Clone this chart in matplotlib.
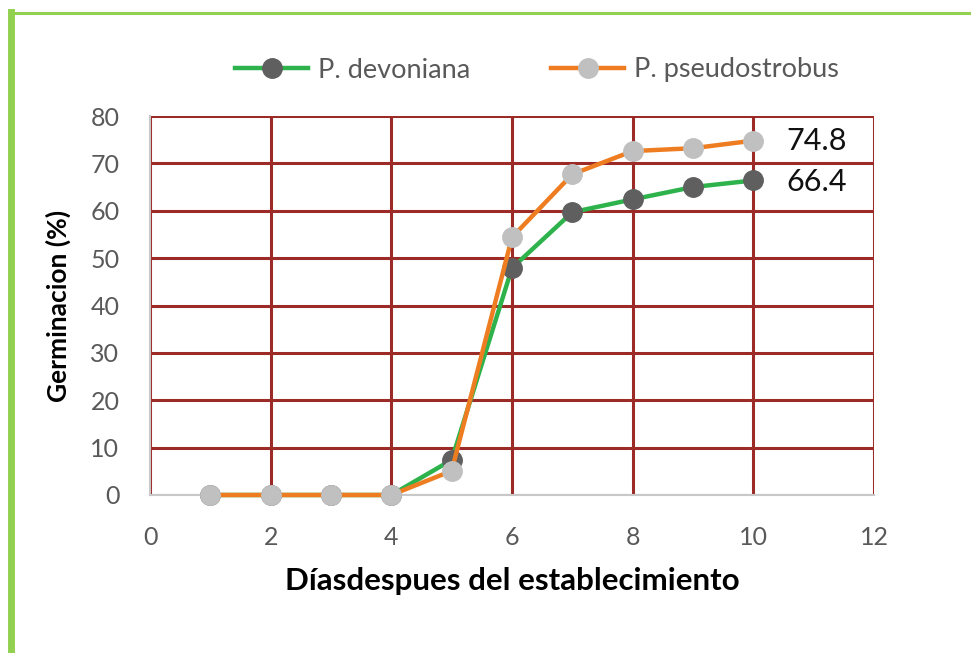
import matplotlib
matplotlib.use("Agg")
import matplotlib.pyplot as plt
from matplotlib.lines import Line2D

plt.rcParams['font.family'] = ['Lato', 'DejaVu Sans']

dias = [1, 2, 3, 4, 5, 6, 7, 8, 9, 10]
devoniana = [0, 0, 0, 0, 7.4, 47.9, 59.7, 62.4, 65.0, 66.4]
pseudostrobus = [0, 0, 0, 0, 5.1, 54.4, 67.7, 72.6, 73.2, 74.8]
xticks = [0, 2, 4, 6, 8, 10, 12]
yticks = [0, 10, 20, 30, 40, 50, 60, 70, 80]

W, H = 971, 653
fig = plt.figure(figsize=(W / 100, H / 100), dpi=100, facecolor='white')
ax = fig.add_axes([150 / W, 1 - 495 / H, 724 / W, 379 / H])

grid_red = '#9C2B27'
ax.set_xlim(0, 12)
ax.set_ylim(0, 80)
ax.set_xticks(xticks)
ax.set_yticks(yticks)
ax.grid(True, color=grid_red, lw=2.2, zorder=0)
ax.set_axisbelow(True)
for side in ('top', 'right'):
    ax.spines[side].set_visible(False)
for side in ('left', 'bottom'):
    ax.spines[side].set_color('#C8C8C8')
    ax.spines[side].set_linewidth(1.5)
ax.tick_params(length=0, labelsize=18, labelcolor='#595959', pad=22)

ax.plot(dias, devoniana, color='#2EB34C', lw=3.2, marker='o', ms=14,
        markerfacecolor='#5F5F5F', markeredgecolor='#5F5F5F',
        label='P. devoniana', zorder=3, clip_on=False)
ax.plot(dias, pseudostrobus, color='#EE7D22', lw=3.2, marker='o', ms=14,
        markerfacecolor='#C0C0C0', markeredgecolor='#C0C0C0',
        label='P. pseudostrobus', zorder=4, clip_on=False)

ax.annotate(f'{pseudostrobus[-1]:.1f}', (dias[-1], pseudostrobus[-1]),
            xytext=(24, 0), textcoords='offset points', va='center',
            ha='left', fontsize=22, color='#111111')
ax.annotate(f'{devoniana[-1]:.1f}', (dias[-1], devoniana[-1]),
            xytext=(24, -1), textcoords='offset points', va='center',
            ha='left', fontsize=22, color='#111111')

ax.set_xlabel('Díasdespues del establecimiento', fontsize=22.5,
              fontweight='bold', color='black', labelpad=13)
ax.set_ylabel('Germinacion (%)', fontsize=19, fontweight='bold',
              color='black', labelpad=14)

leg = ax.legend(loc='center', bbox_to_anchor=(537 / W, 1 - 70 / H),
                bbox_transform=fig.transFigure, ncol=2, frameon=False,
                fontsize=19.5, handlelength=2.7, handletextpad=0.35,
                columnspacing=3.0)
for t in leg.get_texts():
    t.set_color('#595959')

# green frame on the page
fig.add_artist(Line2D([11 / W, 1.0], [1 - 13 / H, 1 - 13 / H],
                      transform=fig.transFigure, color='#92D050', lw=2.2))
fig.add_artist(Line2D([11 / W, 11 / W], [0.0, 1 - 12 / H],
                      transform=fig.transFigure, color='#92D050', lw=5))

fig.savefig('out.png', dpi=100, facecolor='white')
